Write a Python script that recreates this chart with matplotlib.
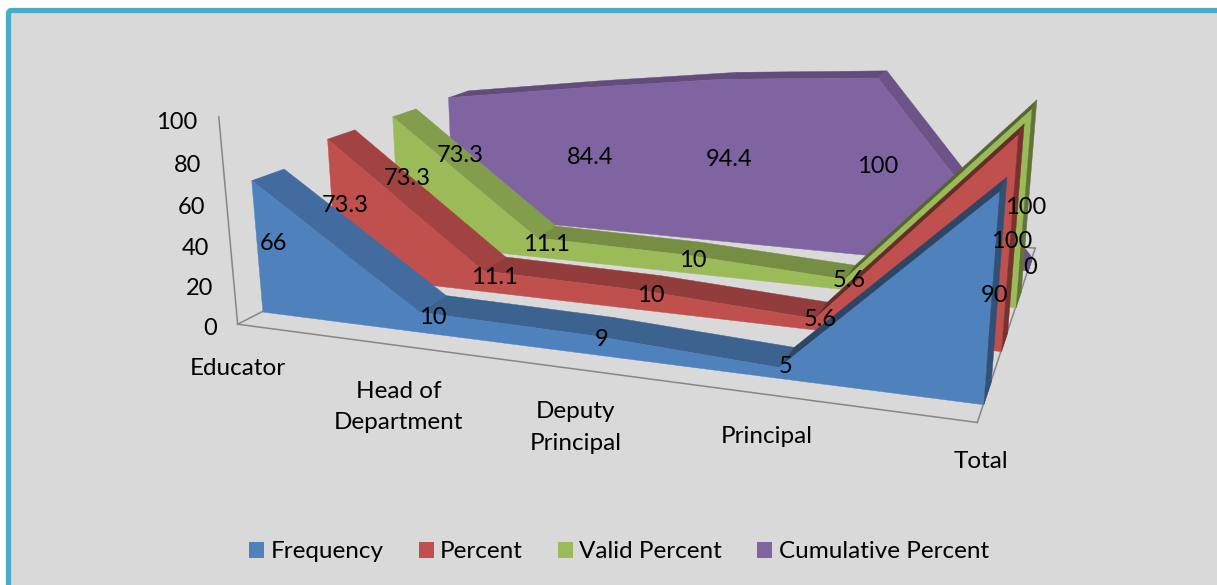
import matplotlib
matplotlib.use('Agg')
import matplotlib.pyplot as plt
from matplotlib.colors import to_rgb
from matplotlib.patches import FancyBboxPatch, Patch
from mpl_toolkits.mplot3d import proj3d
from mpl_toolkits.mplot3d.art3d import Poly3DCollection

plt.rcParams['font.family'] = ['Lato', 'DejaVu Sans']

categories = ['Educator', 'Head of\nDepartment', 'Deputy\nPrincipal', 'Principal', 'Total']
series_names = ['Frequency', 'Percent', 'Valid Percent', 'Cumulative Percent']
frequency = [66, 10, 9, 5, 90]
percent = [73.3, 11.1, 10, 5.6, 100]
valid_percent = [73.3, 11.1, 10, 5.6, 100]
cumulative_percent = [73.3, 84.4, 94.4, 100, 0]
value_ticks = [0, 20, 40, 60, 80, 100]
colors = ['#4F81BD', '#C0504D', '#9BBB59', '#8064A2']
series = [frequency, percent, valid_percent, cumulative_percent]

W, H = 1217, 585
FS = 17
GREY = '#868686'

fig = plt.figure(figsize=(W / 100, H / 100), dpi=100, facecolor='white')
frame = FancyBboxPatch((8.5, -20), W + 20, H + 9.5, boxstyle='round,pad=0,rounding_size=3',
                       transform=None, fc='#D9D9D9', ec='#4BACC6', lw=3.8, zorder=-1)
fig.add_artist(frame)

ax = fig.add_axes([0, 0, 1, 1], projection='3d', computed_zorder=False)
ax.apply_aspect = lambda position=None, **kw: None
ax.set_position([0, 0, 1, 1])
ax.set_axis_off()
ax.patch.set_visible(False)
ax.set_xlim(0, 4)
ax.set_ylim(0, 1)
ax.set_zlim(0, 100)
ax.set_xticks([])
ax.set_yticks([])
ax.set_zticks([])
ax.view_init(15.1489, -70.9955, -0.2672)
ax.set_proj_type('persp', focal_length=0.3005)
ax.set_box_aspect((3.1527, 2.3897, 1))
# screen placement of the projected view
A0, A1, C0, C1 = 4595.13, 673.05, -4200.97, 189.95
ax.viewLim.intervalx = ((0 - A1) / A0, (W - A1) / A0)
ax.viewLim.intervaly = ((H - C1) / C0, (0 - C1) / C0)
M = ax.get_proj()


def shade(c, k):
    return tuple(v * k for v in to_rgb(c))


def face(pts, color, z):
    p = Poly3DCollection([pts], facecolors=[color], edgecolors=[color], linewidths=0.3, zorder=z)
    ax.add_collection3d(p, autolim=False)


def label(x, y, z, s, nudge=(0, 0), **kw):
    u, v, _ = proj3d.proj_transform(x, y, z, M)
    ax.annotate(s, xy=(u, v), xytext=nudge, textcoords='offset pixels', annotation_clip=False,
                zorder=200, color='black', **kw)


# floor outline and value axis
for a, b in [((0, 0), (4, 0)), ((4, 0), (4, 1)), ((4, 1), (0, 1)), ((0, 1), (0, 0))]:
    ax.plot([a[0], b[0]], [a[1], b[1]], [0, 0], color=GREY, lw=1.1, zorder=1)
ax.plot([0, 0], [0, 0], [0, 100], color=GREY, lw=1.1, zorder=1)

xs = list(range(len(categories)))
n = len(series)
z = 10
for i in reversed(range(n)):
    vals, col = series[i], colors[i]
    y0, y1 = (i + 0.3) / n, (i + 0.7) / n
    for k in range(len(xs) - 1):
        dz = vals[k + 1] - vals[k]
        s = 0.54 if dz > 30 else (0.84 if dz < -30 else 0.76)
        face([(xs[k], y0, vals[k]), (xs[k + 1], y0, vals[k + 1]),
              (xs[k + 1], y1, vals[k + 1]), (xs[k], y1, vals[k])], shade(col, s), z)
        z += 1
    front = [(xs[0], y0, 0)] + [(x, y0, v) for x, v in zip(xs, vals)] + [(xs[-1], y0, 0)]
    face(front, col, z)
    z += 1
    face([(xs[-1], y0, 0), (xs[-1], y1, 0), (xs[-1], y1, vals[-1]), (xs[-1], y0, vals[-1])],
         shade(col, 0.62), z)
    z += 1

# data labels
for i in reversed(range(n)):
    ym = (i + 0.5) / n
    for x, v in zip(xs, series[i]):
        label(x, ym, v / 2 - 2, f'{v:g}', ha='center', va='center', fontsize=FS)

# value tick labels (to the left of the axis)
for t in value_ticks:
    label(-0.14, 0, t - 3.5, str(t), ha='right', va='center', fontsize=FS)

# category labels (under the front floor edge)
cat_nudge = [(2, -11), (1, -11), (1, -7), (-1, -5), (0, 0)]
for x, c, nd in zip(xs, categories, cat_nudge):
    label(2 + (x - 2) * 1.013, 0, -12, c, nudge=nd, ha='center', va='top', multialignment='center',
          fontsize=17.5, linespacing=1.62)

handles = [Patch(fc=c, ec='none', label=s) for c, s in zip(colors, series_names)]
fig.legend(handles=handles, loc='center', bbox_to_anchor=(619 / W, 1 - 552 / H), ncol=4, frameon=False,
           fontsize=17.5, handlelength=0.62, handleheight=0.62, handletextpad=0.26, columnspacing=1.44)

fig.savefig('out.png', dpi=100, facecolor='white')
